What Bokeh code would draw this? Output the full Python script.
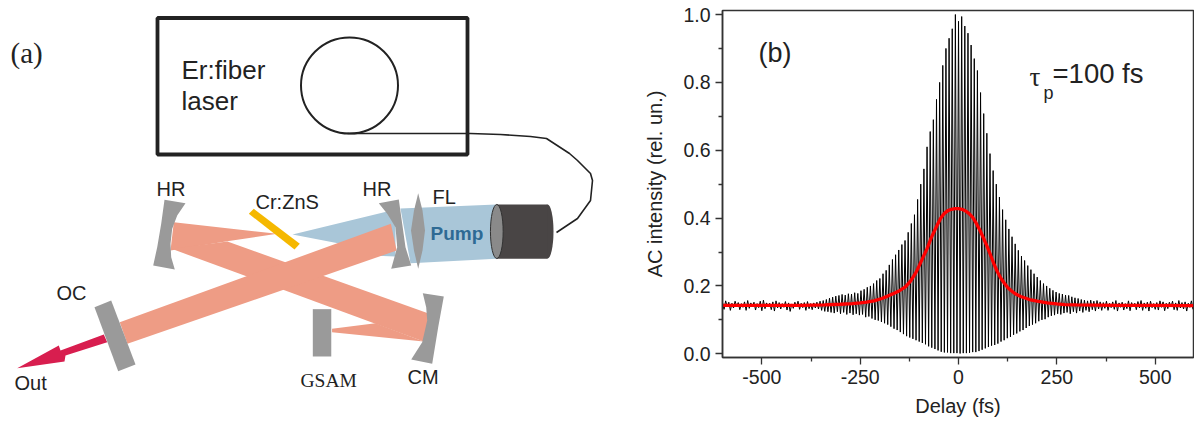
from bokeh.embed import file_html
from bokeh.resources import INLINE
from bokeh.plotting import figure
from bokeh.layouts import row, column
from bokeh.models import Range1d, FixedTicker
from bokeh.core.properties import value

# ---------- panel (b): autocorrelation data ----------
fringe_delay = list(range(-600, 600, 8))
fringe_upper = [
 .150,.156,.152,.149,.155,.151,.148,.153,.157,.150,.152,.148,.155,.158,.150,.149,.153,.156,.151,.148,.154,.150,.147,.152,.155,.149,.151,.154,.148,.150,
 .152,.155,.157,.160,.164,.167,.170,.172,.175,.173,.177,.176,.180,.178,.186,.190,.196,.200,.207,.216,.222,.236,.246,.262,.278,.292,.306,.322,.334,.358,.384,.410,.455,.500,.545,.610,.655,.690,.750,.800,.850,.900,.930,.958,1.0,
 .98,
 .994,.966,.945,.91,.87,.835,.77,.708,.650,.590,.540,.500,.462,.425,.395,.368,.345,.324,.305,.288,.275,.260,.248,.236,.226,.216,.207,.200,.193,.187,.182,.178,.176,.173,.172,.168,.165,.163,.160,.158,.156,.158,.155,.157,.153,
 .151,.155,.149,.153,.157,.150,.152,.148,.156,.151,.149,.154,.157,.150,.152,.155,.148,.151,.156,.153,.149,.152,.155,.150,.157,.151,.153,.149,.156]
fringe_lower = [
 .131,.138,.128,.135,.140,.130,.137,.128,.134,.139,.129,.136,.127,.133,.138,.130,.126,.135,.132,.137,.129,.125,.134,.138,.131,.136,.128,.133,.130,.135,
 .132,.128,.125,.124,.122,.120,.124,.118,.122,.116,.120,.115,.118,.114,.116,.108,.110,.104,.100,.098,.094,.090,.086,.080,.074,.070,.064,.058,.052,.048,.044,.040,.036,.032,.028,.022,.018,.014,.010,.006,.004,.004,.002,.002,.002,
 .001,
 .002,.002,.003,.005,.005,.008,.012,.016,.020,.024,.026,.030,.036,.040,.046,.050,.056,.060,.066,.070,.076,.082,.086,.090,.096,.100,.102,.108,.112,.114,.118,.116,.120,.122,.118,.124,.120,.126,.122,.128,.124,.130,.126,.132,.128,
 .134,.128,.136,.131,.126,.137,.129,.133,.127,.138,.130,.135,.128,.134,.126,.136,.131,.129,.137,.127,.133,.138,.130,.128,.135,.132,.126,.137,.131]
fit_delay = [-600,-500,-400,-340,-300,-270,-250,-234,-215,-195,-180,-165,-150,-135,-122,-108,-99,-90,-80,-70,-63,-54,-45,-36,-27,-18,-9,0,9,18,27,36,45,54,63,72,81,90,99,108,117,126,135,144,158,180,200,225,250,270,300,400,500,597]
fit_value = [.143,.143,.143,.144,.146,.148,.150,.152,.156,.163,.170,.178,.186,.197,.214,.240,.262,.285,.310,.340,.358,.380,.400,.414,.422,.426,.428,.428,.426,.421,.413,.402,.385,.365,.342,.318,.292,.265,.241,.222,.207,.194,.185,.177,.169,.160,.155,.150,.147,.145,.144,.143,.143,.142]
y_ticks = [0.0, 0.2, 0.4, 0.6, 0.8, 1.0]
y_minor = [0.1, 0.3, 0.5, 0.7, 0.9]
x_ticks = [-500, -250, 0, 250, 500]
x_minor = [-375, -125, 125, 375]

SANS = "Liberation Sans"
SERIF = "Liberation Serif"
INK = "#222222"

# ---------- panel (a): schematic, coordinates in picture pixels ----------
def zp(pts):
    return [p[0] / 2.6 for p in pts], [160 + p[1] / 3 for p in pts]
def pp(pts):
    return [p[0] for p in pts], [p[1] for p in pts]

BEAM = "#EE9C85"
BLUE = "#A9C6D8"
GRAY = "#9A9A9A"
page_shapes_under = [
 (BLUE, [(400,208),(496,204),(496,258.3),(410,262.7)]),
 (BLUE, [(292,234),(395,209),(395,256),(370,255),(340,243.3)]),
 (BEAM, [(173.3,221.7),(276.7,233.3),(226.7,240.7),(170,250)]),
]
zoom_shapes = [
 (BEAM, [(445,265),(590,243),(1115,460),(1100,543)]),
 (BEAM, [(975,488),(862,505),(862,515),(1100,543)]),
 (BEAM, [(1015,190),(1030,270),(330,550),(310,485)]),
 (GRAY, [(812,446),(860,446),(860,588),(812,588)]),
]
page_shapes_over = [
 ("#F5B800", [(253.3,208.3),(299.3,243.3),(294,249),(248.3,213.3)]),
 (GRAY, [(164,199.3),(185,202.7),(176.7,215),(171.7,228.3),(170,243.3),(170.7,256.7),(174.3,269),(152.7,265),(156.7,246.7),(160.7,223.3)]),
 (GRAY, [(378.3,202.7),(398.3,199),(401.7,223.3),(405,246.7),(410.7,265),(390.7,268.3),(396.7,246.7),(395,226.7),(386.7,213.3)]),
 (GRAY, [(417.7,192.7),(422,210),(424.5,230),(422,250),(417.7,268.3),(413.5,250),(410.5,230),(413.5,210)]),
 (GRAY, [(422.3,292.7),(443.3,296),(437.7,326.7),(431.7,363.3),(410.7,359),(421.7,341.7),(426.7,320),(425.7,306.7)]),
 ("#D81E4F", [(103.3,334),(106.7,341.7),(65,355),(64,361),(16.7,367.7),(58.3,345),(60,350)]),
 (GRAY, [(94,306.7),(110.7,300),(135,364),(117.7,370.7)]),
]
fiber_x = [347,470,500,530,546,569,577,590,592,590,577,556]
fiber_y = [133,133,134,136,138,153,160,173,180,200,218,232]

a = figure(width=640, height=421, x_range=Range1d(0, 640), y_range=Range1d(421, 0),
           output_backend="svg", toolbar_location=None, min_border=0, outline_line_color=None,
           x_axis_type=None, y_axis_type=None)
a.grid.visible = False

a.quad(left=[157], right=[467], top=[17.5], bottom=[154], fill_color=None, line_color="#222222", line_width=3.8)
a.ellipse(x=[349], y=[85], width=[97], height=[96], fill_color=None, line_color="#222222", line_width=2)
a.line(fiber_x, fiber_y, line_color="#222222", line_width=1.6)
for col, pts in page_shapes_under:
    xs, ys = pp(pts)
    a.patch(xs, ys, fill_color=col, line_color=None)
for col, pts in zoom_shapes:
    xs, ys = zp(pts)
    a.patch(xs, ys, fill_color=col, line_color=None)
for col, pts in page_shapes_over:
    xs, ys = pp(pts)
    a.patch(xs, ys, fill_color=col, line_color=None)
# pump laser head
a.ellipse(x=[547], y=[231], width=[12], height=[54], fill_color="#494545", line_color=None)
a.quad(left=[496], right=[547], top=[204], bottom=[258.3], fill_color="#494545", line_color=None)
a.ellipse(x=[496.3], y=[231], width=[12.7], height=[54], fill_color="#8A8A8A", line_color="#333333", line_width=1)

def label(fig, x, y, t, size, font=SANS, color=INK, style="normal"):
    fig.text(x=[x], y=[y], text=[t], text_font=value(font), text_font_size=size, text_color=color,
             text_baseline="middle", text_align="left", text_font_style=style)

label(a, 10, 52, "(a)", "29px", SERIF)
label(a, 181, 69, "Er:fiber", "26px")
label(a, 181, 100, "laser", "26px")
label(a, 156, 188, "HR", "20px")
label(a, 362, 188, "HR", "20px")
label(a, 255, 201, "Cr:ZnS", "20px")
label(a, 432, 196, "FL", "20px")
label(a, 430, 233, "Pump", "19px", color="#2E6A94", style="bold")
label(a, 56, 292, "OC", "20px")
label(a, 14, 382, "Out", "20px")
label(a, 300, 380, "GSAM", "19.5px", SERIF)
label(a, 407, 376, "CM", "20px")

# ---------- panel (b) ----------
b = figure(width=554, height=421, x_range=Range1d(-600, 597.3), y_range=Range1d(-0.0109, 1.0118),
           output_backend="svg", toolbar_location=None,
           min_border_left=82, min_border_right=1, min_border_top=10, min_border_bottom=64,
           outline_line_color="#333333", outline_line_width=1.5)
b.grid.visible = False

zig_x, zig_y = [], []
for d, u, l in zip(fringe_delay, fringe_upper, fringe_lower):
    zig_x += [d, d + 4]
    zig_y += [u, l]
b.line(zig_x, zig_y, line_color="black", line_width=1.0)
b.line(fit_delay, fit_value, line_color="#FF0000", line_width=3.3)

for ax, ticks, minor, lab in ((b.xaxis[0], x_ticks, x_minor, "Delay (fs)"),
                              (b.yaxis[0], y_ticks, y_minor, "AC intensity (rel. un.)")):
    ax.ticker = FixedTicker(ticks=ticks, minor_ticks=minor)
    ax.axis_label = lab
    ax.axis_label_text_font = SANS
    ax.axis_label_text_font_size = "20px"
    ax.axis_label_text_font_style = "normal"
    ax.axis_label_text_color = INK
    ax.major_label_text_font = SANS
    ax.major_label_text_font_size = "19.5px"
    ax.major_label_text_color = INK
    ax.axis_line_color = "#333333"
    ax.axis_line_width = 1.5
    ax.major_tick_line_color = "#333333"
    ax.minor_tick_line_color = "#333333"
    ax.major_tick_line_width = 1.3
    ax.minor_tick_line_width = 1.3
    ax.major_tick_in = 0
    ax.minor_tick_in = 0
    ax.major_tick_out = 7
    ax.minor_tick_out = 4
b.xaxis[0].major_label_standoff = 5
b.xaxis[0].axis_label_standoff = 8
b.yaxis[0].major_label_standoff = 5
b.yaxis[0].axis_label_standoff = 14
b.yaxis[0].major_label_overrides = {t: f"{t:.1f}" for t in y_ticks}
b.xaxis[0].major_label_overrides = {t: str(t) for t in x_ticks}

def bx(px): return (px - 958) / 0.3934
def by(py): return (353.3 - py) / 339.3

label(b, bx(758), by(52), "(b)", "27px")
label(b, bx(1029), by(76), "\u03c4", "27px", SERIF)
label(b, bx(1043), by(92), "p", "18px")
label(b, bx(1052), by(73), "=100 fs", "27.5px")

page = row(column(a), column(b), spacing=0)
open("out.html", "w").write(file_html(page, INLINE))
